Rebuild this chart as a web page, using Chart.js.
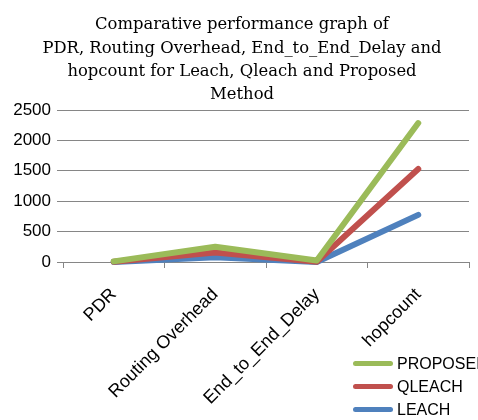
<!DOCTYPE html>
<html>
<head>
<meta charset="utf-8">
<script src="https://cdn.jsdelivr.net/npm/chart.js@4"></script>
<style>
  html, body { margin: 0; padding: 0; background: #fff; overflow: hidden; }
  #wrap { position: relative; width: 478px; height: 420px; overflow: hidden; }
  #legend { position: absolute; left: 353px; top: 352px; font: 16px "Liberation Sans", sans-serif; white-space: nowrap; }
  #legend div { height: 23px; display: flex; align-items: center; }
  #legend span.sw { display: inline-block; width: 40px; height: 5px; border-radius: 3px; margin-right: 4px; }
</style>
</head>
<body>
<div id="wrap">
  <canvas id="chart" width="478" height="420"></canvas>
  <div id="legend"></div>
</div>
<script>
// valeurs
const categories = ['PDR', 'Routing Overhead', 'End_to_End_Delay', 'hopcount'];
const leach = [2, 80, 1, 775];
const qleach = [4, 155, 3, 1530];
const proposed = [10, 250, 25, 2285];
const yTicks = [0, 500, 1000, 1500, 2000, 2500];

const titleLines = [
  'Comparative performance graph of',
  'PDR, Routing Overhead, End_to_End_Delay and',
  'hopcount for Leach, Qleach and Proposed',
  'Method'
];

const GRID = '#868686';

function ds(label, data, color) {
  return {
    label, data,
    borderColor: color,
    backgroundColor: color,
    borderWidth: 6,
    borderCapStyle: 'round',
    borderJoinStyle: 'round',
    pointRadius: 0,
    tension: 0,
    clip: 8
  };
}

// titre centré comme dans l'original (un peu à droite du centre du canvas)
const titlePlugin = {
  id: 'offsetTitle',
  afterDraw(c) {
    const ctx = c.ctx;
    ctx.save();
    ctx.fillStyle = '#000';
    ctx.font = '16.4px "DejaVu Serif", serif';
    ctx.textAlign = 'center';
    ctx.textBaseline = 'middle';
    titleLines.forEach((t, i) => ctx.fillText(t, 242, 25 + i * 23.4));
    ctx.restore();
  }
};

const chart = new Chart(document.getElementById('chart').getContext('2d'), {
  type: 'line',
  data: {
    labels: categories,
    datasets: [
      ds('PROPOSED', proposed, '#9BBB59'),
      ds('QLEACH', qleach, '#C0504D'),
      ds('LEACH', leach, '#4F81BD')
    ]
  },
  plugins: [titlePlugin],
  options: {
    responsive: false,
    animation: false,
    layout: { padding: { top: 110, right: 9, left: 0, bottom: 0 } },
    plugins: {
      legend: { display: false },
      tooltip: { enabled: false },
      title: { display: false }
    },
    scales: {
      x: {
        offset: true,
        grid: { offset: true, drawOnChartArea: false, color: GRID, tickLength: 6 },
        border: { color: GRID, width: 1 },
        ticks: {
          color: '#000',
          padding: 16,
          maxRotation: 45, minRotation: 45,
          font: { family: '"Liberation Sans", sans-serif', size: 18 }
        },
        afterFit: s => { s.height = 158; }
      },
      y: {
        min: 0, max: 2500,
        afterBuildTicks: s => { s.ticks = yTicks.map(v => ({ value: v })); },
        grid: { color: GRID, tickLength: 6 },
        border: { display: false },
        ticks: {
          color: '#000',
          padding: 6,
          font: { family: '"Liberation Sans", sans-serif', size: 17 },
          callback: v => String(v)
        },
        afterFit: s => { s.width = 63; }
      }
    }
  }
});

// legende HTML construite depuis les datasets
const legend = document.getElementById('legend');
chart.data.datasets.forEach(d => {
  const row = document.createElement('div');
  row.innerHTML = '<span class="sw" style="background:' + d.borderColor + '"></span>' + d.label;
  legend.appendChild(row);
});
</script>
</body>
</html>
